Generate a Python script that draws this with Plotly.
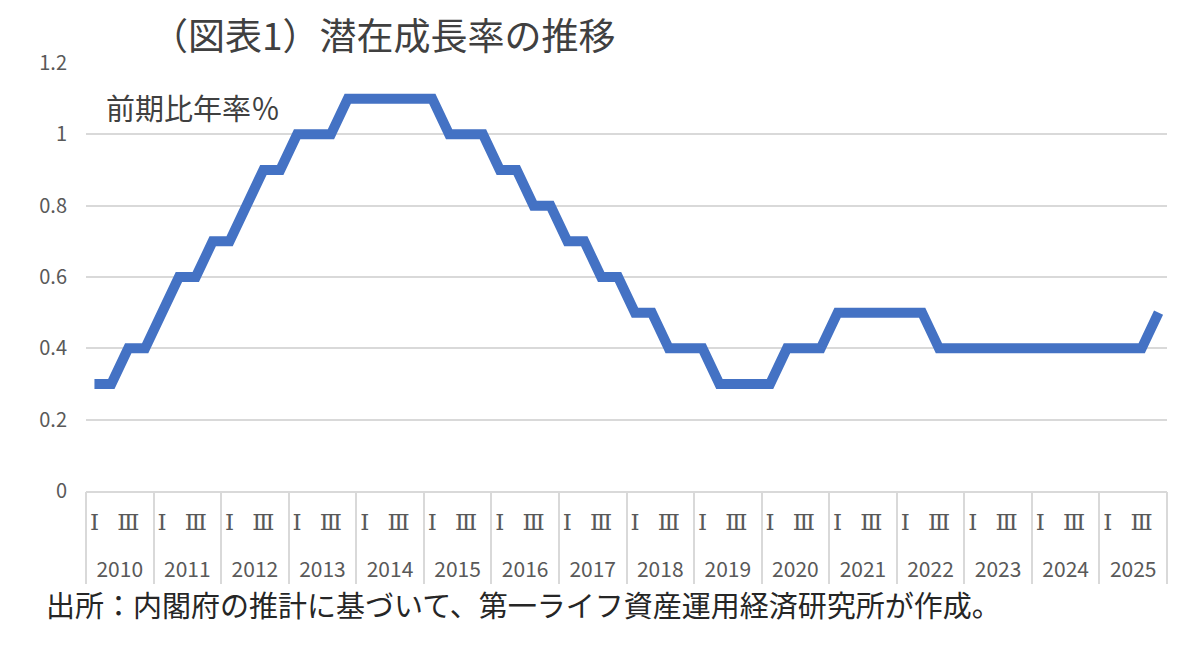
import plotly.graph_objects as go

# 潜在成長率（前期比年率％）、四半期 2010Q1〜2025Q4
years = [str(y) for y in range(2010, 2026)]
quarter_marks = ["Ⅰ", "", "Ⅲ", ""]   # 目盛に出すのはⅠとⅢだけ
growth = [
    0.3, 0.3, 0.4, 0.4,   # 2010
    0.5, 0.6, 0.6, 0.7,   # 2011
    0.7, 0.8, 0.9, 0.9,   # 2012
    1.0, 1.0, 1.0, 1.1,   # 2013
    1.1, 1.1, 1.1, 1.1,   # 2014
    1.1, 1.0, 1.0, 1.0,   # 2015
    0.9, 0.9, 0.8, 0.8,   # 2016
    0.7, 0.7, 0.6, 0.6,   # 2017
    0.5, 0.5, 0.4, 0.4,   # 2018
    0.4, 0.3, 0.3, 0.3,   # 2019
    0.3, 0.4, 0.4, 0.4,   # 2020
    0.5, 0.5, 0.5, 0.5,   # 2021
    0.5, 0.5, 0.4, 0.4,   # 2022
    0.4, 0.4, 0.4, 0.4,   # 2023
    0.4, 0.4, 0.4, 0.4,   # 2024
    0.4, 0.4, 0.4, 0.5,   # 2025
]

n = len(growth)
qpos = list(range(n))                                  # 四半期の通し番号
q_tickvals = [i for i in qpos if quarter_marks[i % 4]]
q_ticktext = [quarter_marks[i % 4] for i in q_tickvals]
year_centers = [4 * k + 1.5 for k in range(len(years))]
year_edges = [4 * k - 0.5 for k in range(len(years) + 1)]
xrange = [-0.5, n - 0.5]

font_jp = "Noto Sans CJK JP"
grid = "#D9D9D9"
tick_col = "#595959"

fig = go.Figure()
fig.add_trace(go.Scatter(
    x=qpos, y=growth,
    mode="lines",
    line=dict(color="#4472C4", width=10),
    showlegend=False,
))
# 年ラベル用・区切り線用の軸を描かせるための空トレース
for ax in ["x2", "x3"]:
    fig.add_trace(go.Scatter(x=[None], y=[None], xaxis=ax, yaxis="y",
                             mode="lines", showlegend=False, hoverinfo="skip"))

fig.update_layout(
    width=1200, height=649,
    margin=dict(l=86, r=33, t=63, b=158),
    paper_bgcolor="white", plot_bgcolor="white",
    font=dict(family=font_jp, color=tick_col),
    title=dict(text="（図表1）潜在成長率の推移", x=151 / 1200, xanchor="left",
               y=1 - 37 / 649, yanchor="middle",
               font=dict(family=font_jp, size=37, color="#404040")),
    annotations=[
        dict(text="前期比年率％", xref="paper", yref="paper",
             x=(104 - 86) / 1081, y=(491 - 107) / 428, xanchor="left", yanchor="middle",
             showarrow=False, font=dict(family=font_jp, size=29, color="#404040")),
        dict(text="出所：内閣府の推計に基づいて、第一ライフ資産運用経済研究所が作成。",
             xref="paper", yref="paper",
             x=(44 - 86) / 1081, y=(491 - 604) / 428, xanchor="left", yanchor="middle",
             showarrow=False, font=dict(family=font_jp, size=29, color="#262626")),
    ],
    # 四半期ラベル（Ⅰ・Ⅲ）
    xaxis=dict(
        range=xrange, tickmode="array", tickvals=q_tickvals, ticktext=q_ticktext,
        tickangle=0, showgrid=False, zeroline=False,
        showline=True, linecolor=grid, linewidth=2,
        ticks="outside", ticklen=9, tickcolor="rgba(0,0,0,0)",
        tickfont=dict(family="DejaVu Serif, " + font_jp, size=23, color=tick_col),
    ),
    # 年ラベル
    xaxis2=dict(
        overlaying="x", anchor="y", side="bottom", range=xrange,
        tickmode="array", tickvals=year_centers, ticktext=years,
        tickangle=0, showgrid=False, zeroline=False, showline=False,
        ticks="outside", ticklen=60, tickcolor="rgba(0,0,0,0)",
        tickfont=dict(family=font_jp, size=21, color=tick_col),
    ),
    # 年の区切り線
    xaxis3=dict(
        overlaying="x", anchor="y", side="bottom", range=xrange,
        tickmode="array", tickvals=year_edges, showticklabels=False,
        showgrid=False, zeroline=False, showline=False,
        ticks="outside", ticklen=92, tickcolor=grid, tickwidth=2,
    ),
    yaxis=dict(
        range=[0, 1.2], dtick=0.2, showgrid=True, gridcolor=grid, gridwidth=2,
        zeroline=False, showline=False, ticklabelstandoff=18,
        tickfont=dict(family=font_jp, size=20, color=tick_col),
    ),
)

# ページ既定の余白を消して図を左上に合わせる
fig.write_html("out.html", config={"displayModeBar": False},
               post_script="document.body.style.margin='0';")
